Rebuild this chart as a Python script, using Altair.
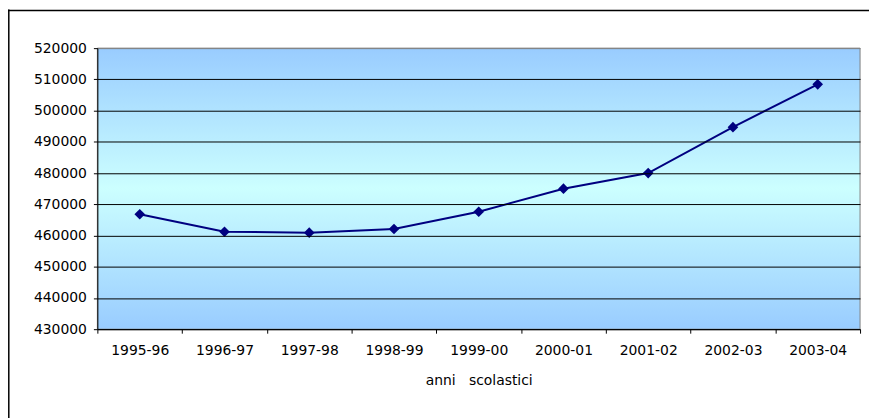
import altair as alt
import pandas as pd

years = ["1995-96", "1996-97", "1997-98", "1998-99", "1999-00",
         "2000-01", "2001-02", "2002-03", "2003-04"]
values = [466800, 461200, 460900, 462100, 467600, 475000, 480000, 494700, 508400]
y_ticks = [430000, 440000, 450000, 460000, 470000, 480000, 490000, 500000, 510000, 520000]

df = pd.DataFrame({"anno": years, "valore": values})

FONT = "DejaVu Sans"
FS = 14
W, H = 768, 283

x_enc = alt.X(
    "anno:N",
    sort=years,
    scale=alt.Scale(type="band", paddingInner=0, paddingOuter=0),
    axis=alt.Axis(
        title="anni\u00a0\u00a0\u00a0scolastici",
        labelAngle=0,
        tickBand="extent",
        tickSize=4,
        tickColor="black",
        domainColor="black",
        labelPadding=10,
        titlePadding=17,
        labelOverlap=False,
        labelFont=FONT, labelFontSize=FS, labelColor="black",
        titleFont=FONT, titleFontSize=FS, titleFontWeight="normal", titleColor="black",
        grid=False,
        zindex=1,
    ),
)
y_enc = alt.Y(
    "valore:Q",
    scale=alt.Scale(domain=[430000, 520000], nice=False, zero=False),
    axis=alt.Axis(
        title=None,
        values=y_ticks,
        format="d",
        tickSize=4,
        tickColor="black",
        domainColor="black",
        labelPadding=7,
        labelOverlap=False,
        labelFont=FONT, labelFontSize=FS, labelColor="black",
        grid=True,
        gridColor={"condition": {"test": "datum.value >= 520000", "value": "#808080"}, "value": "black"},
        gridWidth=1,
        zindex=1,
    ),
)

bg_df = pd.DataFrame({"k": [0]})
background = alt.Chart(bg_df).mark_rect(
    fill={
        "gradient": "linear",
        "x1": 0, "y1": 0, "x2": 0, "y2": 1,
        "stops": [
            {"offset": 0, "color": "#99CCFF"},
            {"offset": 0.5, "color": "#CCFFFF"},
            {"offset": 1, "color": "#99CCFF"},
        ],
    },
    stroke="#808080",
    strokeWidth=1,
).encode(x=alt.value(0), x2=alt.value(W), y=alt.value(0), y2=alt.value(H))

line = alt.Chart(df).mark_line(color="#000080", strokeWidth=2).encode(x=x_enc, y=y_enc)
pts = alt.Chart(df).mark_point(shape="diamond", filled=True, size=115, color="#000080", opacity=1).encode(
    x=x_enc, y=y_enc
)

top_rule = alt.Chart(bg_df).mark_rule(color="black", strokeWidth=1.5).encode(
    x=alt.value(-90), x2=alt.value(780), y=alt.value(-38)
)
left_rule = alt.Chart(bg_df).mark_rule(color="black", strokeWidth=1.5).encode(
    x=alt.value(-89.2), y=alt.value(-39), y2=alt.value(380)
)

chart = (
    alt.layer(background, line, pts, top_rule, left_rule)
    .properties(
        width=W, height=H,
        autosize=alt.AutoSizeParams(type="none"),
        padding={"left": 90, "top": 39, "right": 9, "bottom": 88},
        background="white",
    )
    .configure_view(stroke=None)
)

chart.save("out.html", embed_options={"renderer": "svg", "actions": False})
